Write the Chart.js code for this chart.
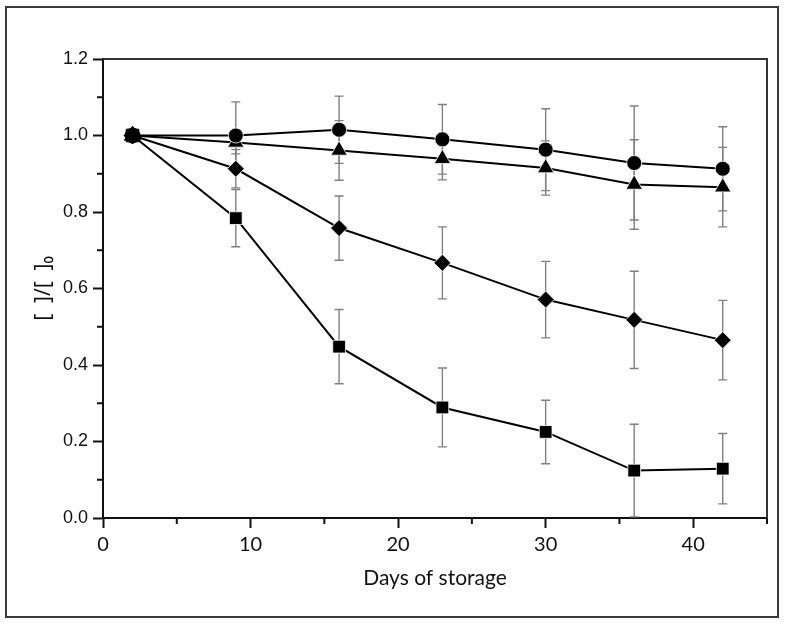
<!DOCTYPE html>
<html><head><meta charset="utf-8">
<script src="https://cdn.jsdelivr.net/npm/chart.js@4"></script>
<style>
html,body{margin:0;padding:0;background:#fff;}
#wrap{position:relative;width:787px;height:628px;}
#frame{position:absolute;left:5px;top:6px;width:770px;height:608px;border:2px solid #3a3a3a;pointer-events:none;}
canvas{position:absolute;left:0;top:0;}
</style></head><body>
<div id="wrap"><canvas id="c" width="787" height="628"></canvas><div id="frame"></div></div>
<script>
const days = [2, 9, 16, 23, 30, 36, 42];
const circleMean = [1.0, 1.0, 1.015, 0.99, 0.963, 0.928, 0.913];
const circleErr = [0, 0.088, 0.088, 0.091, 0.107, 0.149, 0.11];
const triangleMean = [1.0, 0.982, 0.961, 0.939, 0.915, 0.872, 0.865];
const triangleErr = [0, 0.03, 0.078, 0.055, 0.071, 0.117, 0.104];
const diamondMean = [1.0, 0.913, 0.758, 0.667, 0.571, 0.518, 0.465];
const diamondErr = [0, 0.05, 0.084, 0.094, 0.1, 0.127, 0.104];
const squareMean = [1.0, 0.784, 0.448, 0.289, 0.225, 0.124, 0.129];
const squareErr = [0, 0.075, 0.097, 0.103, 0.083, 0.121, 0.092];
const xMinorTicks = [5, 15, 25, 35, 45];
const yMinorTicks = [0.1, 0.3, 0.5, 0.7, 0.9, 1.1];
const xTitle = 'Days of storage';
const yTitle = '[  ]/[  ]\u2080';

const series = [
  {mean: circleMean, err: circleErr, style: 'circle', r: 7.5},
  {mean: triangleMean, err: triangleErr, style: 'triangle', r: 9.5},
  {mean: diamondMean, err: diamondErr, style: 'rectRot', r: 8.5},
  {mean: squareMean, err: squareErr, style: 'rect', r: 9}
];

const errorBars = {
  id: 'errorBars',
  beforeDatasetsDraw(chart) {
    const {ctx, scales: {x, y}} = chart;
    ctx.save();
    ctx.strokeStyle = '#808080';
    ctx.lineWidth = 1.4;
    series.forEach(s => {
      s.mean.forEach((m, i) => {
        const e = s.err[i];
        if (!e) return;
        const px = x.getPixelForValue(days[i]);
        const pt = y.getPixelForValue(m + e);
        const pb = y.getPixelForValue(m - e);
        ctx.beginPath();
        ctx.moveTo(px, pt); ctx.lineTo(px, pb);
        ctx.moveTo(px - 4.5, pt); ctx.lineTo(px + 4.5, pt);
        ctx.moveTo(px - 4.5, pb); ctx.lineTo(px + 4.5, pb);
        ctx.stroke();
      });
    });
    ctx.restore();
  }
};

const frameAndMinor = {
  id: 'frameAndMinor',
  afterDraw(chart) {
    const {ctx, chartArea: a, scales: {x, y}} = chart;
    ctx.save();
    ctx.strokeStyle = '#333';
    ctx.lineWidth = 2;
    ctx.beginPath();
    ctx.moveTo(a.left, a.top); ctx.lineTo(a.right, a.top); ctx.lineTo(a.right, a.bottom);
    ctx.stroke();
    ctx.strokeStyle = '#111';
    ctx.beginPath();
    xMinorTicks.forEach(v => {
      const px = x.getPixelForValue(v);
      ctx.moveTo(px, a.bottom); ctx.lineTo(px, a.bottom + 6);
    });
    yMinorTicks.forEach(v => {
      const py = y.getPixelForValue(v);
      ctx.moveTo(a.left - 6, py); ctx.lineTo(a.left, py);
    });
    ctx.stroke();
    ctx.restore();
  }
};

new Chart(document.getElementById('c'), {
  type: 'line',
  data: {
    datasets: series.map(s => ({
      data: days.map((d, i) => ({x: d, y: s.mean[i]})),
      borderColor: '#000',
      borderWidth: 2,
      pointStyle: s.style,
      pointRadius: s.r,
      pointBackgroundColor: '#000',
      pointBorderColor: ctx => ctx.dataIndex === 0 ? '#000' : '#fff',
      pointBorderWidth: 0.8,
      tension: 0,
      fill: false
    }))
  },
  options: {
    responsive: false,
    animation: false,
    devicePixelRatio: 1,
    layout: {padding: {left: 0, top: 59, right: 20, bottom: 30}},
    plugins: {legend: {display: false}, tooltip: {enabled: false}},
    scales: {
      x: {
        type: 'linear', min: 0, max: 45,
        afterBuildTicks: s => { s.ticks = s.ticks.filter(t => Math.abs(t.value % 10) < 1e-9); },
        afterFit: s => { s.height = 80; },
        ticks: {stepSize: 10, color: '#111', padding: 5, font: {family: 'Lato', size: 20}, maxRotation: 0},
        grid: {drawOnChartArea: false, drawTicks: true, tickLength: 10, tickColor: '#111', tickWidth: 2},
        border: {display: true, color: '#111', width: 2},
        title: {display: true, text: xTitle, color: '#111', font: {family: 'Lato', size: 21}, padding: {top: 0, bottom: 7}}
      },
      y: {
        type: 'linear', min: 0, max: 1.2,
        afterFit: s => { s.width = 103; },
        ticks: {stepSize: 0.2, color: '#111', padding: 5, font: {family: 'Liberation Sans', size: 18},
          callback: v => Number(v).toFixed(1)},
        grid: {drawOnChartArea: false, drawTicks: true, tickLength: 10, tickColor: '#111', tickWidth: 2},
        border: {display: true, color: '#111', width: 2},
        title: {display: true, text: yTitle, color: '#111', font: {family: 'Noto Sans', size: 21}, padding: {top: 31, bottom: 0}}
      }
    }
  },
  plugins: [errorBars, frameAndMinor]
});
</script>
</body></html>
